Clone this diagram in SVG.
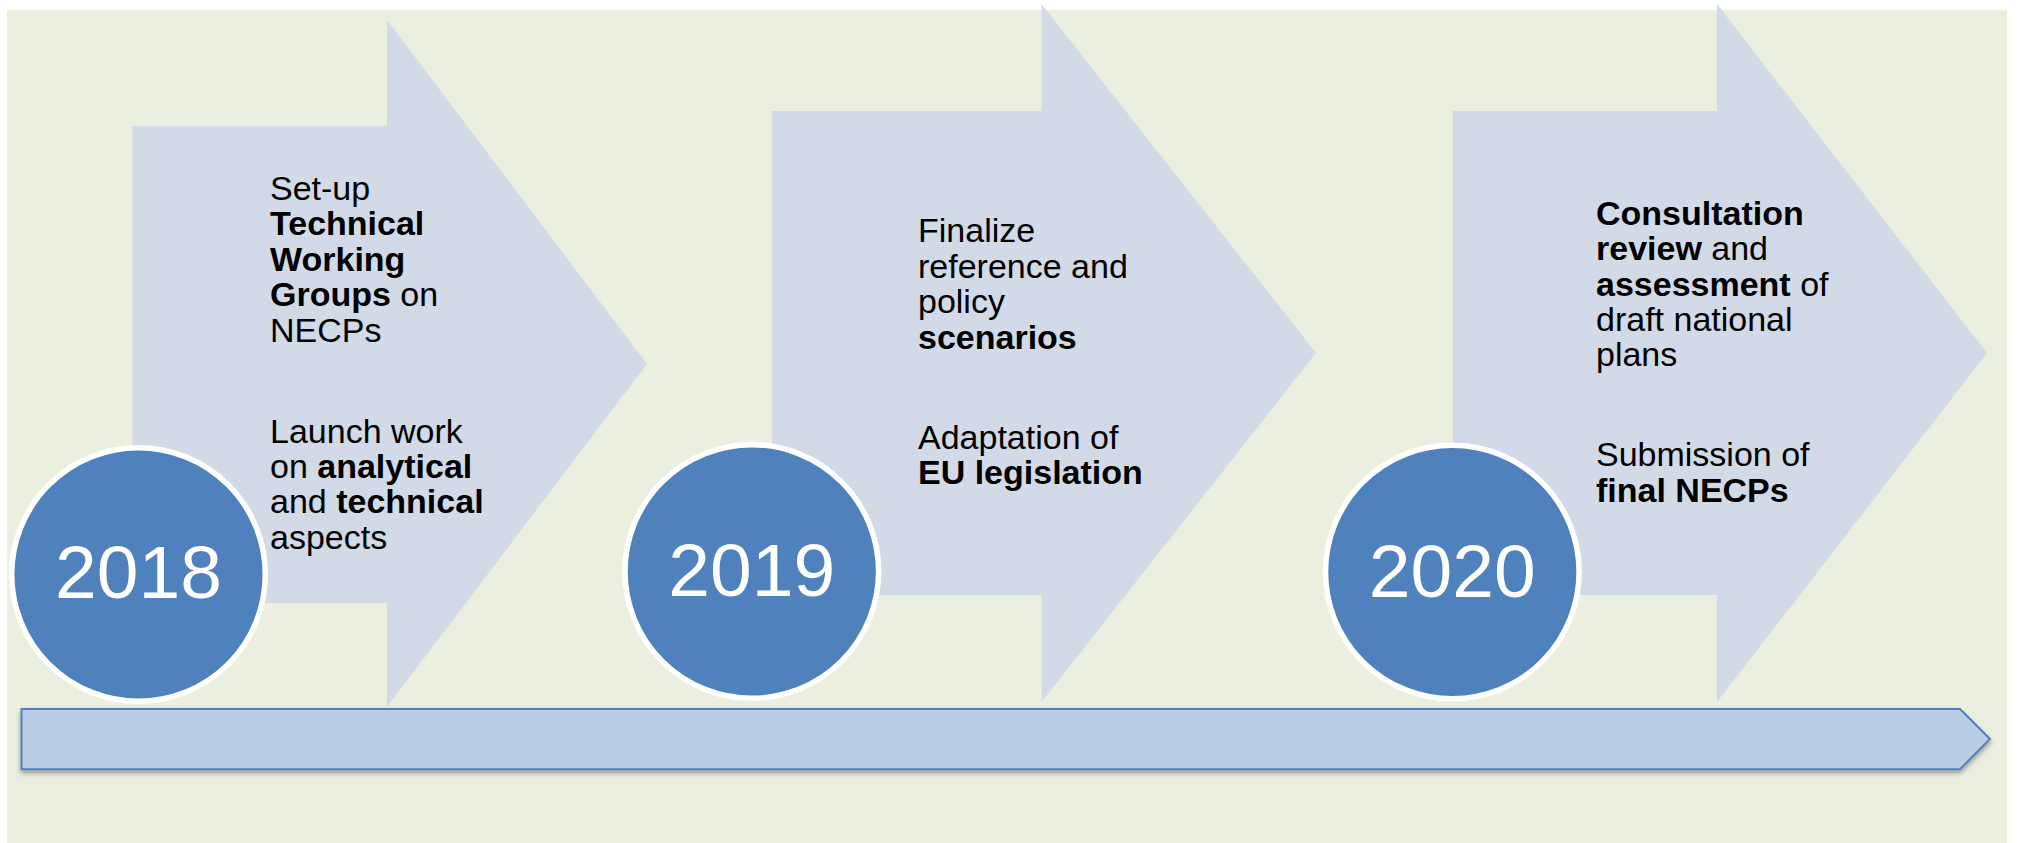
<svg xmlns="http://www.w3.org/2000/svg" width="2017" height="843" viewBox="0 0 2017 843">
  <defs>
    <filter id="shadow" x="-5%" y="-30%" width="110%" height="180%">
      <feDropShadow dx="0" dy="3" stdDeviation="2.5" flood-color="#000" flood-opacity="0.35"/>
    </filter>
  </defs>
  <style>
    .arrow { fill: #D1DAE6; }
    .year-circle { fill: #4F81BD; stroke: #FFFFFF; stroke-width: 5.5; }
    .year { font-family: "Liberation Sans", Arial, sans-serif; font-size: 75px; fill: #FFFFFF; text-anchor: middle; }
    .body { font-family: "Liberation Sans", Arial, sans-serif; font-size: 34px; fill: #000000; }
    .b { font-weight: bold; }
    .bar { fill: #B9CDE5; stroke: #4F81BD; stroke-width: 2; }
  </style>
  <rect x="7" y="10" width="2000" height="833" fill="#EBEFDF"/>

  <g id="node-2018">
    <polygon class="arrow" points="132.5,126 387,126 387,20 647,364 387,707 387,603 132.5,603"/>
    <text class="body">
      <tspan x="270" y="199.5">Set-up</tspan>
      <tspan x="270" y="235" class="b">Technical</tspan>
      <tspan x="270" y="270.5" class="b">Working</tspan>
      <tspan x="270" y="306"><tspan class="b">Groups</tspan> on</tspan>
      <tspan x="270" y="341.5">NECPs</tspan>
      <tspan x="270" y="442.5">Launch work</tspan>
      <tspan x="270" y="478">on <tspan class="b">analytical</tspan></tspan>
      <tspan x="270" y="513">and <tspan class="b">technical</tspan></tspan>
      <tspan x="270" y="548.5">aspects</tspan>
    </text>
    <circle class="year-circle" cx="138.5" cy="574.5" r="126.8"/>
    <text class="year" x="138.5" y="598">2018</text>
  </g>

  <g id="node-2019">
    <polygon class="arrow" points="772,111 1041.5,111 1041.5,4 1316,353 1041.5,702 1041.5,595 772,595"/>
    <text class="body">
      <tspan x="918" y="242">Finalize</tspan>
      <tspan x="918" y="277.5">reference and</tspan>
      <tspan x="918" y="313">policy</tspan>
      <tspan x="918" y="348.5" class="b">scenarios</tspan>
      <tspan x="918" y="448.5">Adaptation of</tspan>
      <tspan x="918" y="484" class="b">EU legislation</tspan>
    </text>
    <circle class="year-circle" cx="751.8" cy="571.5" r="126.8"/>
    <text class="year" x="751.8" y="595.7">2019</text>
  </g>

  <g id="node-2020">
    <polygon class="arrow" points="1453,111 1717,111 1717,4 1987,353 1717,702 1717,595 1453,595"/>
    <text class="body">
      <tspan x="1596" y="224.5" class="b">Consultation</tspan>
      <tspan x="1596" y="260"><tspan class="b">review</tspan> and</tspan>
      <tspan x="1596" y="295.5"><tspan class="b">assessment</tspan> of</tspan>
      <tspan x="1596" y="331">draft national</tspan>
      <tspan x="1596" y="366">plans</tspan>
      <tspan x="1596" y="466">Submission of</tspan>
      <tspan x="1596" y="501.5" class="b">final NECPs</tspan>
    </text>
    <circle class="year-circle" cx="1452.3" cy="572" r="126.8"/>
    <text class="year" x="1452.3" y="596.8">2020</text>
  </g>

  <g id="connectors">
    <polygon class="bar" filter="url(#shadow)" points="21.5,709 1960,709 1990,739 1960,769.3 21.5,769.3"/>
  </g>
</svg>
